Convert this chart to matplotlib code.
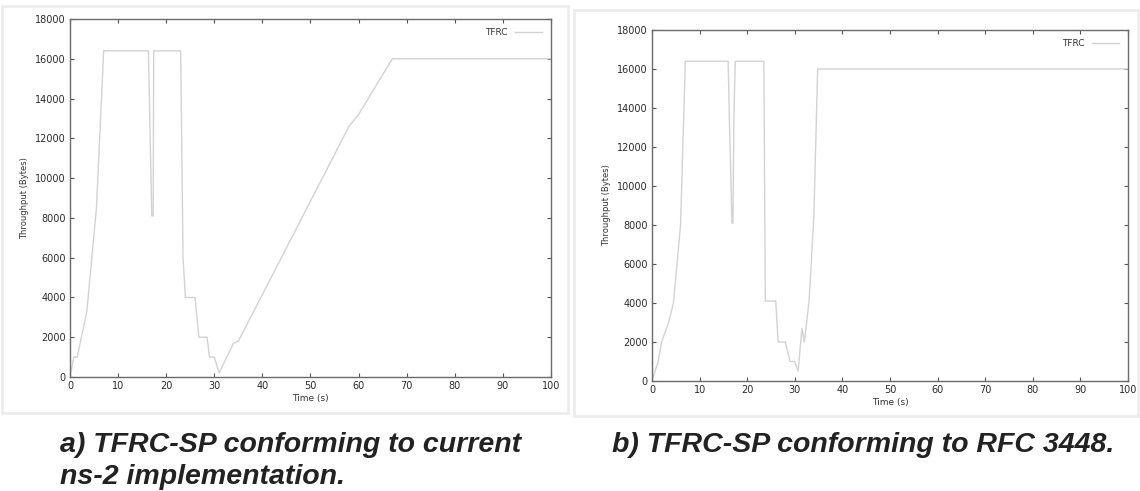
import matplotlib
matplotlib.use("Agg")
import matplotlib.pyplot as plt
from matplotlib.patches import Rectangle

# TFRC-SP throughput, current ns-2 implementation (panel a)
time_a = [0, 0.8, 1.5, 3.5, 5.5, 7, 16.3, 17.0, 17.3, 17.4, 23.0, 23.5, 24.0,
          26.0, 26.8, 28.5, 29.0, 30.0, 31.0, 34.0, 35.0, 58.0, 60.0, 67.0, 100]
thr_a = [0, 1000, 1000, 3300, 8500, 16400, 16400, 8100, 8100, 16400, 16400, 6000, 4000,
         4000, 2000, 2000, 1000, 1000, 200, 1700, 1800, 12600, 13200, 16000, 16000]

# TFRC-SP throughput, conforming to RFC 3448 (panel b)
time_b = [0, 1.3, 2.0, 3.5, 4.5, 6.0, 7.0, 16.0, 16.3, 16.8, 17.0, 17.2, 17.5, 23.5,
          23.8, 26.0, 26.5, 28.0, 29.0, 30.0, 30.7, 31.5, 32.0, 33.0, 34.0, 34.8, 100]
thr_b = [0, 1000, 2000, 3000, 4000, 8000, 16400, 16400, 13000, 8100, 8100, 13500, 16400, 16400,
         4100, 4100, 2000, 2000, 1000, 1000, 500, 2700, 2000, 4100, 8400, 16000, 16000]

x_ticks = list(range(0, 101, 10))
y_ticks = list(range(0, 18001, 2000))
captions = ["a) TFRC-SP conforming to current\nns-2 implementation.",
            "b) TFRC-SP conforming to RFC 3448."]

W, H = 1140, 491
fig = plt.figure(figsize=(W / 100, H / 100), dpi=100)


def px_axes(x0, y0, x1, y1):
    return fig.add_axes([x0 / W, 1 - y1 / H, (x1 - x0) / W, (y1 - y0) / H])


# faint panel borders of the scanned figures
for (x0, y0, x1, y1) in [(2, 6, 568, 413), (574, 10, 1138, 416)]:
    fig.patches.append(Rectangle((x0 / W, 1 - y1 / H), (x1 - x0) / W, (y1 - y0) / H,
                                 transform=fig.transFigure, fill=False,
                                 edgecolor="#ececec", linewidth=2))

panels = [
    (px_axes(70, 19, 551, 377), time_a, thr_a),
    (px_axes(652, 30, 1128, 381), time_b, thr_b),
]

for ax, t, y in panels:
    ax.plot(t, y, color="#d2d2d2", linewidth=1.0, label="TFRC")
    ax.set_xlim(0, 100)
    ax.set_ylim(0, 18000)
    ax.set_xticks(x_ticks)
    ax.set_yticks(y_ticks)
    ax.tick_params(direction="in", top=True, right=True, length=3,
                   labelsize=7, colors="#555555", labelcolor="#2a2a2a", pad=3)
    for s in ax.spines.values():
        s.set_color("#6a6a6a")
        s.set_linewidth(1.0)
    ax.set_xlabel("Time (s)", fontsize=6.5, color="#333333", labelpad=2)
    ax.set_ylabel("Throughput (Bytes)", fontsize=6, color="#333333", labelpad=4)
    leg = ax.legend(loc="upper right", frameon=False, fontsize=6.5,
                    handlelength=3, markerfirst=False, borderaxespad=0.6)
    for txt in leg.get_texts():
        txt.set_color("#333333")

cap_font = dict(family="Liberation Sans", fontweight="bold", fontstyle="italic",
                fontsize=20.5, color="#222222")
fig.text(60 / W, 1 - 432 / H, captions[0], va="top", ha="left",
         linespacing=1.3, **cap_font)
fig.text(612 / W, 1 - 432 / H, captions[1], va="top", ha="left", **cap_font)

fig.savefig("out.png", dpi=100)
